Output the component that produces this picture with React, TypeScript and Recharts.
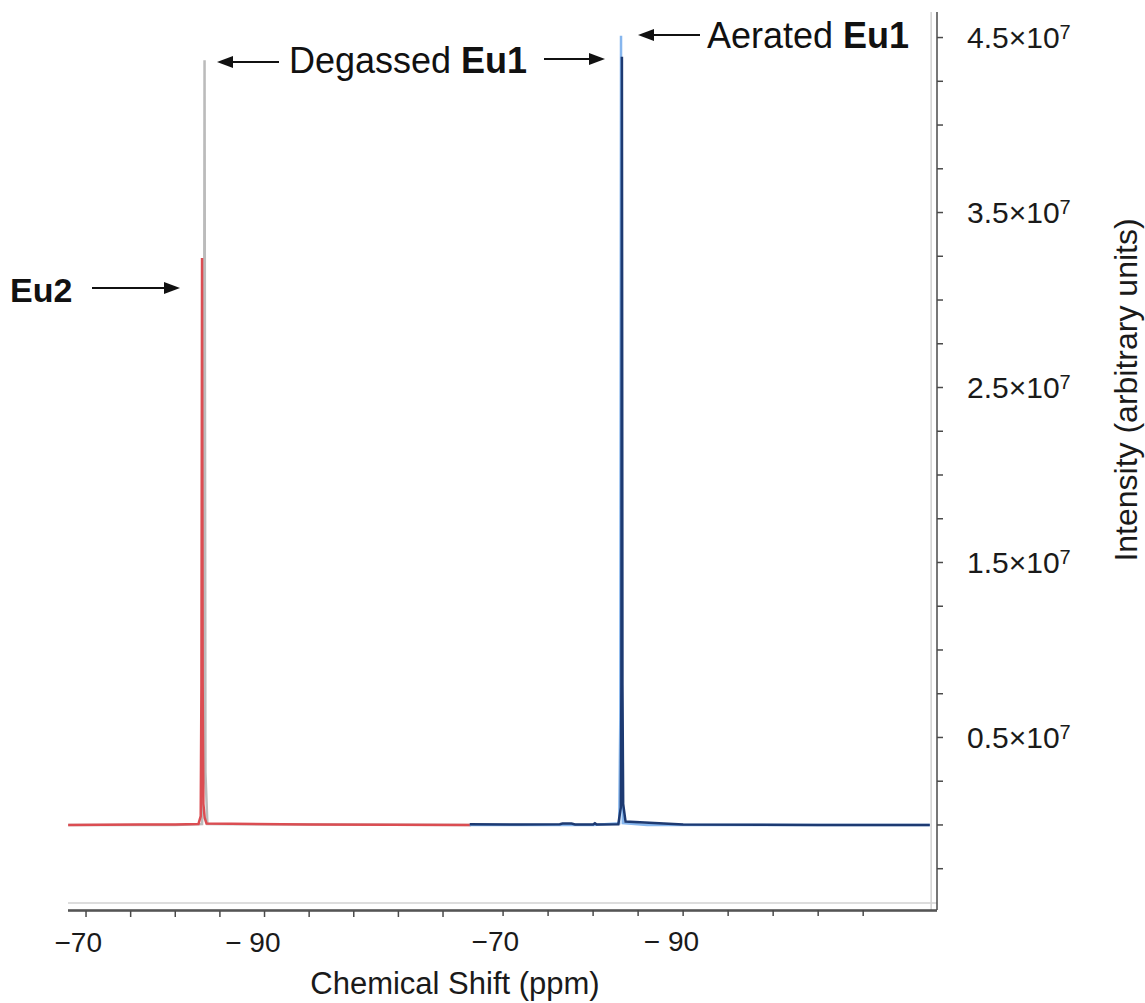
import { LineChart, Line, XAxis, YAxis, ReferenceLine } from "recharts";

// left panel (degassed sample) – gray trace under the red one
const grayPpm = [-68, -80, -83.0, -83.18, -83.28, -83.38, -83.6, -113.1];
const grayInt = [0, 0, 0.005e7, 0.3e7, 4.37e7, 0.3e7, 0.005e7, 0];

// left panel – Eu2, red
const redPpm = [-68, -76, -80, -82.6, -82.85, -82.93, -83.0, -83.07, -83.15, -83.3, -83.5, -95, -113.1];
const redInt = [0, 0.002e7, 0.003e7, 0.006e7, 0.05e7, 0.8e7, 3.24e7, 0.8e7, 0.12e7, 0.04e7, 0.008e7, 0.002e7, 0];

// right panel – aerated Eu1, light blue
const airPpm = [-66.3, -80, -82.9, -83.02, -83.1, -83.18, -83.3, -86, -117.4];
const airInt = [0, 0, 0.01e7, 0.6e7, 4.51e7, 0.6e7, 0.01e7, 0, 0];

// right panel – degassed Eu1, navy
const navyPpm = [-66.3, -72, -76.3, -76.6, -77.6, -78.0, -80.0, -80.2, -80.4, -82.8, -83.08, -83.14, -83.2, -83.26, -83.34, -83.6, -90, -105, -117.4];
const navyInt = [0.004e7, 0.003e7, 0.004e7, 0.008e7, 0.008e7, 0.003e7, 0.002e7, 0.01e7, 0.002e7, 0.004e7, 0.1e7, 0.8e7, 4.39e7, 0.8e7, 0.12e7, 0.02e7, 0.002e7, 0, 0];

const xTicks = [-70, -75, -80, -85, -90, -95, -100, -105, -110];
const xLabels: Record<string, string> = { "-70": "\u221270", "-90": "\u2212 90" };

const yTicks = [
  -0.25e7, 0, 0.25e7, 0.5e7, 0.75e7, 1e7, 1.25e7, 1.5e7, 1.75e7, 2e7, 2.25e7,
  2.5e7, 2.75e7, 3e7, 3.25e7, 3.5e7, 3.75e7, 4e7, 4.25e7, 4.5e7,
];
const yLabelled = [0.5e7, 1.5e7, 2.5e7, 3.5e7, 4.5e7];

const pts = (ppm: number[], v: number[]) => ppm.map((p, i) => ({ ppm: p, v: v[i] }));

const FONT = "'Liberation Sans', Arial, Helvetica, sans-serif";
const AXIS = "#4a4a4a";

function XTick(props: any) {
  const { x, y, payload } = props;
  const txt = xLabels[String(payload.value)];
  if (!txt) return <g />;
  return (
    <text x={x + 16} y={y + 33} textAnchor="end" fontSize={28} fill="#1a1a1a" fontFamily={FONT}>
      {txt}
    </text>
  );
}

function YTick(props: any) {
  const { x, y, payload } = props;
  const v = payload.value;
  if (!yLabelled.some((t) => Math.abs(t - v) < 1)) return <g />;
  return (
    <text x={x + 22} y={y} dy="0.36em" fontSize={30} fill="#1a1a1a" fontFamily={FONT}>
      {(v / 1e7).toFixed(1)}×10
      <tspan dy="-0.45em" fontSize={20}>7</tspan>
    </text>
  );
}

function XTitle(props: any) {
  const { viewBox } = props;
  return (
    <text x={viewBox.x + 387} y={viewBox.y + 84} textAnchor="middle" fontSize={31} fill="#1a1a1a" fontFamily={FONT}>
      Chemical Shift (ppm)
    </text>
  );
}

function YTitle(props: any) {
  const { viewBox } = props;
  const x = viewBox.x + 188;
  const y = viewBox.y + 378;
  return (
    <text x={x} y={y} dy="0.36em" textAnchor="middle" fontSize={32} fill="#1a1a1a" fontFamily={FONT} transform={`rotate(-90, ${x}, ${y})`}>
      Intensity (arbitrary units)
    </text>
  );
}

function Arrow({ from, to, y }: { from: number; to: number; y: number }) {
  const dir = to > from ? 1 : -1;
  const base = to - dir * 16;
  return (
    <g>
      <line x1={from} y1={y} x2={base} y2={y} stroke="#111" strokeWidth={2} />
      <polygon points={`${to},${y} ${base},${y - 6} ${base},${y + 6}`} fill="#111" />
    </g>
  );
}

export default function App() {
  return (
    <div style={{ position: "absolute", left: 0, top: 0, width: 1145, height: 1003, background: "#fff", fontFamily: FONT }}>
      <LineChart width={1145} height={1003} margin={{ top: 12, right: 8, bottom: 91, left: 68 }}>
        <XAxis
          xAxisId="deg"
          type="number"
          dataKey="ppm"
          domain={[-165.35, -67.98]}
          reversed
          allowDataOverflow
          ticks={xTicks}
          interval={0}
          height={1}
          tickSize={6}
          stroke={AXIS}
          strokeWidth={1.5}
          tick={<XTick />}
        />
        <XAxis
          xAxisId="air"
          type="number"
          dataKey="ppm"
          domain={[-118.2, -21.67]}
          reversed
          allowDataOverflow
          ticks={xTicks}
          interval={0}
          height={1}
          tickSize={6}
          stroke={AXIS}
          strokeWidth={1.5}
          tick={<XTick />}
          label={<XTitle />}
        />
        <YAxis
          orientation="right"
          type="number"
          domain={[-0.486e7, 4.646e7]}
          allowDataOverflow
          ticks={yTicks}
          interval={0}
          width={200}
          tickSize={6}
          stroke={AXIS}
          strokeWidth={1.5}
          tick={<YTick />}
          label={<YTitle />}
        />
        <ReferenceLine xAxisId="air" x={-117.55} stroke="#d2d2d2" strokeWidth={1.5} />
        <ReferenceLine xAxisId="air" y={-0.446e7} stroke="#d2d2d2" strokeWidth={1.5} />
        <Line xAxisId="deg" data={pts(grayPpm, grayInt)} dataKey="v" type="linear" stroke="#bbbbbb" strokeWidth={2.5} dot={false} isAnimationActive={false} />
        <Line xAxisId="deg" data={pts(redPpm, redInt)} dataKey="v" type="linear" stroke="#db4d52" strokeWidth={2.5} dot={false} isAnimationActive={false} />
        <Line xAxisId="air" data={pts(airPpm, airInt)} dataKey="v" type="linear" stroke="#86b6ee" strokeWidth={2.5} dot={false} isAnimationActive={false} />
        <Line xAxisId="air" data={pts(navyPpm, navyInt)} dataKey="v" type="linear" stroke="#1d3a72" strokeWidth={2.5} dot={false} isAnimationActive={false} />
      </LineChart>
      <svg width={1145} height={1003} style={{ position: "absolute", left: 0, top: 0, pointerEvents: "none" }}>
        <Arrow from={279} to={217} y={62} />
        <text x={289} y={73} fontSize={36} fill="#111" fontFamily={FONT}>
          Degassed <tspan fontWeight="bold">Eu1</tspan>
        </text>
        <Arrow from={544} to={605} y={59} />
        <Arrow from={700} to={638} y={35} />
        <text x={707} y={48} fontSize={36} fill="#111" fontFamily={FONT}>
          Aerated <tspan fontWeight="bold">Eu1</tspan>
        </text>
        <text x={10} y={302} fontSize={34} fontWeight="bold" fill="#111" fontFamily={FONT}>
          Eu2
        </text>
        <Arrow from={92} to={180} y={288} />
      </svg>
    </div>
  );
}
